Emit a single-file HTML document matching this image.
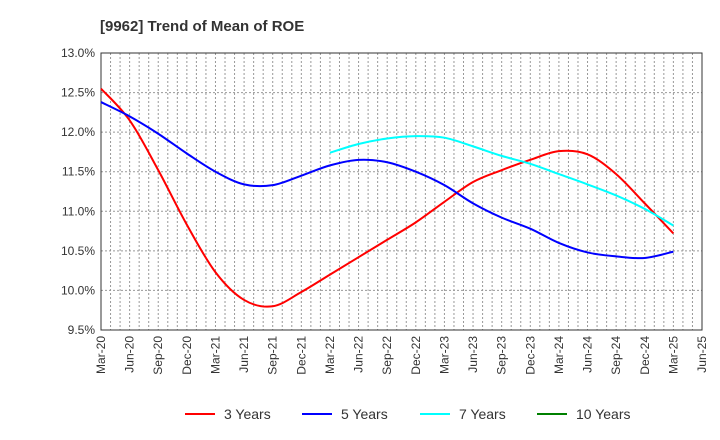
<!DOCTYPE html>
<html><head><meta charset="utf-8"><style>
body{margin:0;background:#fff;font-family:"Liberation Sans",sans-serif}
svg{display:block}
</style></head><body>
<svg id="c" width="720" height="440">
<text x="100" y="31" font-size="15" font-weight="bold" fill="#333">[9962]  Trend of Mean of ROE</text>
<g id="grid"></g><g id="axes"></g><g id="series"></g><g id="legend"></g>
</svg>
<script>
const categories=["Mar-20","Jun-20","Sep-20","Dec-20","Mar-21","Jun-21","Sep-21","Dec-21","Mar-22","Jun-22","Sep-22","Dec-22","Mar-23","Jun-23","Sep-23","Dec-23","Mar-24","Jun-24","Sep-24","Dec-24","Mar-25","Jun-25"];
const yTicks=[9.5,10.0,10.5,11.0,11.5,12.0,12.5,13.0];
const s3=[12.55,12.15,11.52,10.83,10.23,9.88,9.80,9.98,10.2,10.42,10.64,10.86,11.12,11.37,11.52,11.65,11.76,11.72,11.47,11.1,10.72];
const s5=[12.38,12.2,11.98,11.73,11.5,11.34,11.33,11.45,11.58,11.65,11.62,11.5,11.33,11.1,10.92,10.78,10.6,10.48,10.43,10.41,10.49];
const s7=[null,null,null,null,null,null,null,null,11.74,11.85,11.92,11.95,11.93,11.82,11.7,11.6,11.47,11.34,11.2,11.03,10.82];
const s10=[];
const L=101,R=702,T=53,B=330,NS="http://www.w3.org/2000/svg";
const x=i=>L+i*(R-L)/(categories.length-1);
const y=v=>T+(13-v)/3.5*(B-T);
function mk(tag,attrs,parent){const e=document.createElementNS(NS,tag);for(const k in attrs)e.setAttribute(k,attrs[k]);document.getElementById(parent).appendChild(e);return e;}
for(let m=1;m<(categories.length-1)*3;m++){const xx=L+m*(R-L)/((categories.length-1)*3);
const g=mk('line',{x1:xx,x2:xx,y1:T,y2:B,stroke:'#999','stroke-dasharray':'2,2','stroke-width':1},'grid');

}
yTicks.forEach(v=>{const g=mk('line',{x1:L,x2:R,y1:y(v),y2:y(v),stroke:'#999','stroke-dasharray':'2,2','stroke-width':1},'grid');


const t=mk('text',{x:L-6,y:y(v)+4,'text-anchor':'end','font-size':12,fill:'#333'},'axes');t.textContent=v.toFixed(1)+'%';

});
categories.forEach((c,i)=>{const t=mk('text',{transform:`translate(${x(i)+4},${B+6}) rotate(-90)`,'text-anchor':'end','font-size':12,fill:'#333'},'axes');t.textContent=c;

});
const fr=mk('rect',{x:L,y:T,width:R-L,height:B-T,fill:'none',stroke:'#333','stroke-width':1},'axes');


function path(arr){const p=[];arr.forEach((v,i)=>{if(v!=null)p.push([x(i),y(v)]);});if(p.length<2)return '';
let d=`M${p[0][0]},${p[0][1]}`;for(let i=0;i<p.length-1;i++){const p0=p[Math.max(0,i-1)],p1=p[i],p2=p[i+1],p3=p[Math.min(p.length-1,i+2)];
d+=` C${p1[0]+(p2[0]-p0[0])/6},${p1[1]+(p2[1]-p0[1])/6} ${p2[0]-(p3[0]-p1[0])/6},${p2[1]-(p3[1]-p1[1])/6} ${p2[0]},${p2[1]}`;}return d;}
[[s3,'#ff0000','series-3-years'],[s5,'#0000ff','series-5-years'],[s7,'#00ffff','series-7-years'],[s10,'#008000','series-10-years']].forEach(([a,c,n])=>{const d=path(a);if(!d)return;
const e=mk('path',{d:d,fill:'none',stroke:c,'stroke-width':2},'series');

});
[['3 Years','#ff0000',185],['5 Years','#0000ff',302],['7 Years','#00ffff',420],['10 Years','#008000',537]].forEach(([t,c,lx])=>{
const l=mk('line',{x1:lx,x2:lx+30,y1:414,y2:414,stroke:c,'stroke-width':2},'legend');


const tx=mk('text',{x:lx+39,y:419,'font-size':14,fill:'#333'},'legend');tx.textContent=t;

});
</script>
</body></html>
